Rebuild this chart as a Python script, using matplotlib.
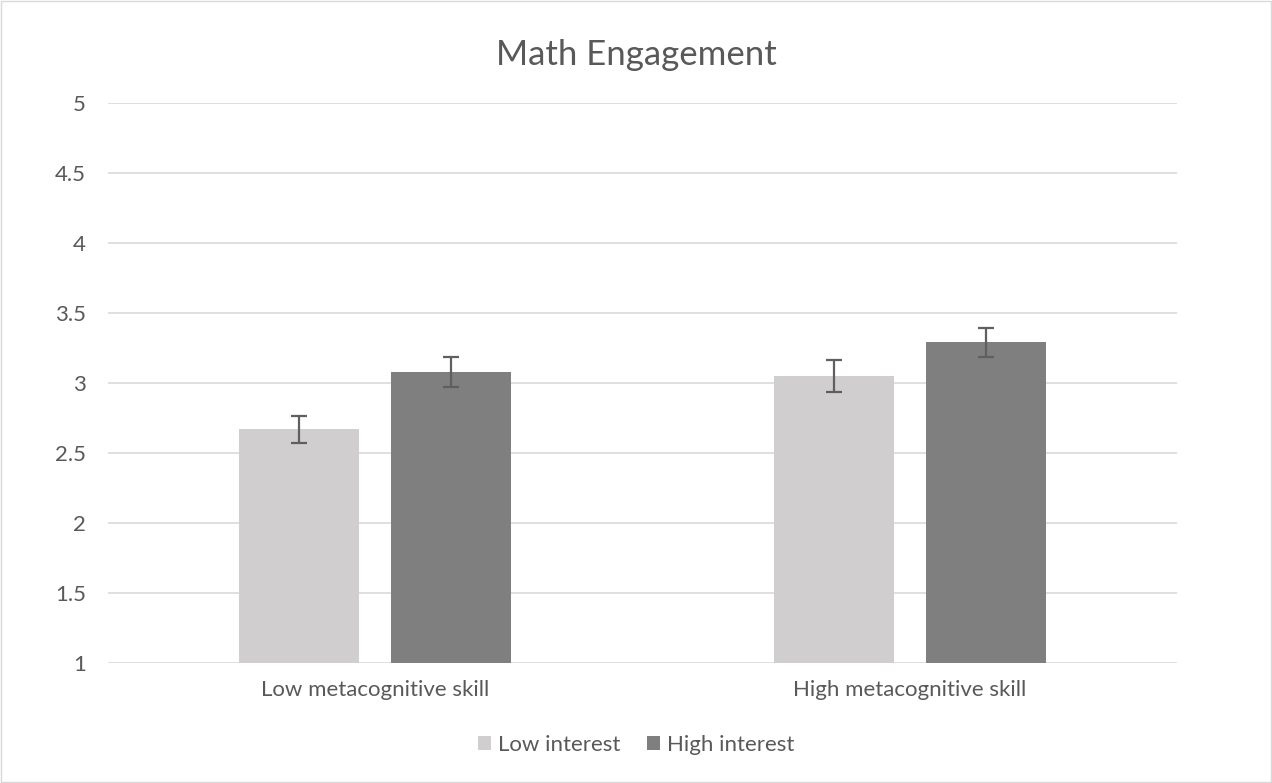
import numpy as np
import matplotlib.pyplot as plt

categories = ["Low metacognitive skill", "High metacognitive skill"]
series_names = ["Low interest", "High interest"]
low_interest = [2.67, 3.05]
low_interest_err = [0.095, 0.115]
high_interest = [3.08, 3.29]
high_interest_err = [0.105, 0.105]
yticks = [1, 1.5, 2, 2.5, 3, 3.5, 4, 4.5, 5]

plt.rcParams["font.family"] = ["Lato", "DejaVu Sans"]
TXT = "#595959"

fig = plt.figure(figsize=(12.72, 7.83), dpi=100)
fig.patches.append(plt.Rectangle((0.0005, 0.0008), 0.999, 0.998, transform=fig.transFigure,
                                 fill=False, ec="#d9d9d9", lw=1))
ax = fig.add_axes([108 / 1272, 120 / 783, 1069 / 1272, 560 / 783])

x = np.arange(len(categories)) + 0.5
w = 0.2245
off = 0.142
ekw = dict(ecolor="#5f5f5f", elinewidth=1.6, capsize=6, capthick=1.6)
ax.bar(x - off, low_interest, w, bottom=0, color="#d0cece", label=series_names[0], zorder=2)
ax.bar(x + off, high_interest, w, bottom=0, color="#7f7f7f", label=series_names[1], zorder=2)
ax.errorbar(x - off, low_interest, yerr=low_interest_err, fmt="none", zorder=3, **ekw)
ax.errorbar(x + off, high_interest, yerr=high_interest_err, fmt="none", zorder=3, **ekw)

ax.set_xlim(0, 2)
ax.set_ylim(1, 5)
ax.set_yticks(yticks)
ax.set_yticklabels([f"{v:g}" for v in yticks])
ax.set_xticks(x)
ax.set_xticklabels(categories)
ax.tick_params(axis="both", length=0, labelsize=16, colors=TXT)
ax.tick_params(axis="x", pad=12)
ax.tick_params(axis="y", pad=16)
ax.yaxis.grid(True, color="#d9d9d9", lw=1.2, zorder=0)
for s in ax.spines.values():
    s.set_visible(False)

fig.text(0.5, 1 - 55 / 783, "Math Engagement", ha="center", va="center", fontsize=25, color=TXT)
leg = fig.legend(loc="center", bbox_to_anchor=(0.5, 1 - 745 / 783), ncol=2, frameon=False,
                 fontsize=16, handlelength=0.6, handleheight=0.6, handletextpad=0.3,
                 columnspacing=1.2, labelcolor=TXT)

fig.savefig("out.png", dpi=100)
